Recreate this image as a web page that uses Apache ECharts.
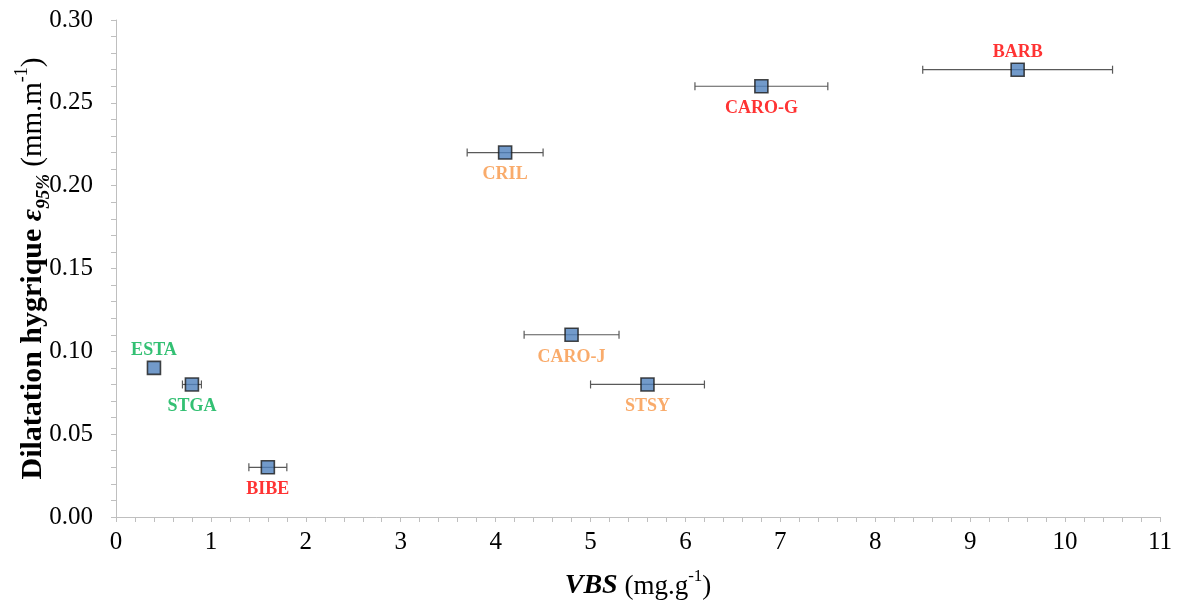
<!DOCTYPE html>
<html><head><meta charset="utf-8">
<script src="https://cdn.jsdelivr.net/npm/echarts@6/dist/echarts.min.js"></script>
<style>html,body{margin:0;padding:0;background:#fff}#c{width:1183px;height:603px}</style>
</head><body><div id="c"></div>
<script>
const names = ['ESTA','STGA','BIBE','CRIL','CARO-J','STSY','CARO-G','BARB'];
const vbs = [0.4, 0.8, 1.6, 4.1, 4.8, 5.6, 6.8, 9.5];
const dilat = [0.09, 0.08, 0.03, 0.22, 0.11, 0.08, 0.26, 0.27];
const vbsErr = [0, 0.1, 0.2, 0.4, 0.5, 0.6, 0.7, 1.0];
const labelPos = ['top','bottom','bottom','bottom','bottom','bottom','bottom','top'];
const labelColor = ['#00B050','#00B050','#FF0000','#F79646','#F79646','#F79646','#FF0000','#FF0000'];

const serif = '"Liberation Serif","Times New Roman",serif';
const chart = echarts.init(document.getElementById('c'));
chart.setOption({
  animation:false,
  backgroundColor:'#fff',
  grid:{left:116,right:23,top:20,bottom:86,containLabel:false,outerBoundsMode:'none'},
  xAxis:{type:'value',min:0,max:11,interval:1,
    axisLine:{show:true,lineStyle:{color:'#bfbfbf',width:1}},
    axisTick:{show:true,length:5,lineStyle:{color:'#bfbfbf'}},
    minorTick:{show:true,splitNumber:5,length:5,lineStyle:{color:'#bfbfbf'}},
    splitLine:{show:false},
    axisLabel:{color:'#000',fontFamily:serif,fontSize:25,margin:13},
    name:'{bi|VBS}{n| (mg.g}{sup|-1}{n|)}',nameLocation:'middle',nameGap:49,
    nameTextStyle:{rich:{
      bi:{fontFamily:serif,fontSize:28,fontWeight:'bold',fontStyle:'italic',color:'#000',lineHeight:34,verticalAlign:'bottom'},
      n:{fontFamily:serif,fontSize:27,color:'#000',lineHeight:34,verticalAlign:'bottom'},
      sup:{fontFamily:serif,fontSize:17,color:'#000',lineHeight:34,verticalAlign:'top',padding:[2,0,0,0]}
    }}
  },
  yAxis:{type:'value',min:0,max:0.3,interval:0.05,
    axisLine:{show:true,lineStyle:{color:'#bfbfbf',width:1}},
    axisTick:{show:true,length:5,lineStyle:{color:'#bfbfbf'}},
    minorTick:{show:true,splitNumber:5,length:5,lineStyle:{color:'#bfbfbf'}},
    splitLine:{show:false},
    axisLabel:{color:'#000',fontFamily:serif,fontSize:25,margin:23,formatter:v=>v.toFixed(2)},
    name:'{b|Dilatation hygrique }{e|ε}{sub|95%}{n| (mm.m}{sup|-1}{n|)}',
    nameLocation:'middle',nameRotate:90,nameGap:68,nameMoveOverlap:false,
    nameTextStyle:{rich:{
      b:{fontFamily:serif,fontSize:30,fontWeight:'bold',color:'#000',lineHeight:36,verticalAlign:'bottom'},
      e:{fontFamily:serif,fontSize:30,fontWeight:'bold',fontStyle:'italic',color:'#000',lineHeight:36,verticalAlign:'bottom'},
      sub:{fontFamily:serif,fontSize:19,fontWeight:'bold',fontStyle:'italic',color:'#000',lineHeight:36,verticalAlign:'bottom',padding:[0,0,-6,0]},
      n:{fontFamily:serif,fontSize:29,color:'#000',lineHeight:36,verticalAlign:'bottom'},
      sup:{fontFamily:serif,fontSize:18,color:'#000',lineHeight:36,verticalAlign:'top',padding:[1,0,0,0]}
    }}
  },
  series:[
    {type:'custom',z:2,
      data:vbs.map((x,i)=>[x,dilat[i],vbsErr[i]]),
      renderItem:function(params,api){
        const x=api.value(0),y=api.value(1),e=api.value(2);
        if(!e) return null;
        const p1=api.coord([x-e,y]),p2=api.coord([x+e,y]);
        const st={stroke:'#595959',lineWidth:1.2};
        return {type:'group',children:[
          {type:'line',shape:{x1:p1[0],y1:p1[1],x2:p2[0],y2:p2[1]},style:st},
          {type:'line',shape:{x1:p1[0],y1:p1[1]-4,x2:p1[0],y2:p1[1]+4},style:st},
          {type:'line',shape:{x1:p2[0],y1:p2[1]-4,x2:p2[0],y2:p2[1]+4},style:st}
        ]};
      }
    },
    {type:'scatter',z:5,symbol:'rect',symbolSize:13,
      itemStyle:{color:'#4F81BD',borderColor:'#1a1a1a',borderWidth:1.6},
      data:vbs.map((x,i)=>({value:[x,dilat[i]],
        label:{show:true,formatter:names[i],position:labelPos[i],distance:labelPos[i]==='top'?1:6,
          color:labelColor[i],fontFamily:serif,fontWeight:'bold',fontSize:18}}))
    }
  ]
});
</script></body></html>
